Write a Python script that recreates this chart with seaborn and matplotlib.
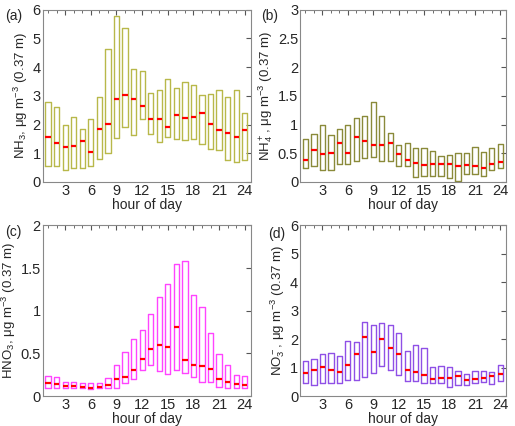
import numpy as np
import pandas as pd
import matplotlib
matplotlib.use("Agg")
import matplotlib.pyplot as plt
import seaborn as sns
from matplotlib.ticker import MultipleLocator, FuncFormatter

hours = list(range(1, 25))

# NH3 (a): lower box edge, median, upper box edge
nh3_lo = [0.56, 0.54, 0.41, 0.50, 0.49, 0.54, 0.81, 1.00, 1.54, 1.92, 1.63, 2.18,
          1.66, 1.38, 1.56, 1.50, 1.46, 1.50, 1.31, 1.16, 1.12, 0.76, 0.68, 0.76]
nh3_med = [1.56, 1.36, 1.23, 1.26, 1.44, 1.03, 1.85, 2.02, 2.88, 3.02, 2.90, 2.63,
           2.19, 2.20, 1.91, 2.32, 2.24, 2.27, 2.40, 2.03, 1.81, 1.70, 1.58, 1.81]
nh3_hi = [2.78, 2.61, 1.98, 2.28, 1.85, 2.18, 2.96, 4.63, 5.77, 5.35, 3.95, 3.88,
          3.11, 3.20, 3.59, 3.29, 3.50, 3.37, 3.03, 3.07, 3.22, 2.95, 3.22, 2.41]

# NH4+ (b)
nh4_lo = [0.24, 0.27, 0.21, 0.21, 0.31, 0.31, 0.37, 0.41, 0.43, 0.37, 0.36, 0.27,
          0.27, 0.09, 0.10, 0.10, 0.10, 0.07, 0.02, 0.13, 0.14, 0.11, 0.20, 0.25]
nh4_med = [0.38, 0.55, 0.49, 0.51, 0.68, 0.51, 0.79, 0.72, 0.64, 0.65, 0.67, 0.49,
           0.38, 0.33, 0.30, 0.31, 0.31, 0.31, 0.27, 0.29, 0.28, 0.24, 0.31, 0.35]
nh4_hi = [0.75, 0.84, 1.00, 0.82, 0.92, 1.00, 1.11, 1.15, 1.39, 1.15, 0.85, 0.64,
          0.68, 0.59, 0.59, 0.53, 0.45, 0.47, 0.50, 0.51, 0.60, 0.52, 0.59, 0.66]

# HNO3 (c)
hno3_lo = [0.10, 0.10, 0.09, 0.10, 0.09, 0.08, 0.09, 0.10, 0.10, 0.15, 0.20, 0.31,
           0.36, 0.30, 0.26, 0.31, 0.27, 0.23, 0.17, 0.17, 0.11, 0.09, 0.09, 0.09]
hno3_med = [0.15, 0.14, 0.12, 0.12, 0.11, 0.10, 0.11, 0.13, 0.20, 0.23, 0.31, 0.43,
            0.55, 0.60, 0.58, 0.81, 0.42, 0.36, 0.35, 0.32, 0.20, 0.17, 0.14, 0.13]
hno3_hi = [0.24, 0.23, 0.17, 0.17, 0.16, 0.16, 0.16, 0.21, 0.36, 0.52, 0.67, 0.77,
           0.96, 1.16, 1.31, 1.55, 1.58, 1.19, 1.04, 0.74, 0.49, 0.36, 0.25, 0.24]

# NO3- (d)
no3_lo = [0.48, 0.40, 0.46, 0.46, 0.47, 0.57, 0.57, 0.67, 0.82, 1.07, 0.93, 0.73,
          0.53, 0.53, 0.47, 0.47, 0.47, 0.33, 0.40, 0.40, 0.48, 0.50, 0.43, 0.53]
no3_med = [0.83, 0.93, 1.04, 0.93, 0.84, 1.10, 1.47, 2.07, 1.54, 2.02, 1.70, 1.47,
           0.93, 0.84, 0.76, 0.60, 0.63, 0.63, 0.70, 0.58, 0.60, 0.65, 0.70, 0.77]
no3_hi = [1.25, 1.30, 1.48, 1.50, 1.40, 1.95, 1.90, 2.60, 2.50, 2.56, 2.49, 2.21,
          1.57, 1.80, 1.69, 1.03, 1.05, 1.02, 0.88, 0.78, 0.88, 0.88, 0.84, 1.08]

sns.set_style("white")
plt.rcParams['font.family'] = ['Liberation Sans', 'DejaVu Sans']
plt.rcParams['mathtext.fontset'] = 'custom'
plt.rcParams['mathtext.rm'] = 'Liberation Sans'
plt.rcParams['mathtext.it'] = 'Liberation Sans'


def long_form(lo, med, hi):
    # 5 points per hour so that q1 = lo, median = med, q3 = hi
    rows = []
    for h, a, m, b in zip(hours, lo, med, hi):
        for v in (a, a, m, b, b):
            rows.append({'hour': h, 'value': v})
    return pd.DataFrame(rows)


panels = [
    ("(a)", nh3_lo, nh3_med, nh3_hi, "#b8b84a", 6, 1,
     r"NH$_3$, $\mathregular{\mu}$g m$^{-3}$ (0.37 m)"),
    ("(b)", nh4_lo, nh4_med, nh4_hi, "#8a8a3a", 3, 0.5,
     r"NH$_4^+$, $\mathregular{\mu}$g m$^{-3}$ (0.37 m)"),
    ("(c)", hno3_lo, hno3_med, hno3_hi, "#ff44ff", 2, 0.5,
     r"HNO$_3$, $\mathregular{\mu}$g m$^{-3}$ (0.37 m)"),
    ("(d)", no3_lo, no3_med, no3_hi, "#8f50e6", 6, 1,
     r"NO$_3^-$, $\mathregular{\mu}$g m$^{-3}$ (0.37 m)"),
]

positions = [
    [0.083, 0.573, 0.404, 0.404],
    [0.583, 0.573, 0.400, 0.404],
    [0.083, 0.070, 0.404, 0.401],
    [0.583, 0.070, 0.400, 0.401],
]
label_xy = [(0.010, 0.962), (0.508, 0.962), (0.010, 0.455), (0.520, 0.450)]

fig = plt.figure(figsize=(5.15, 4.26), dpi=100)

for (tag, lo, med, hi, col, ymax, ystep, ylab), pos, lxy in zip(panels, positions, label_xy):
    ax = fig.add_axes(pos)
    df = long_form(lo, med, hi)
    sns.boxplot(data=df, x='hour', y='value', native_scale=True, ax=ax,
                width=0.62, fill=False, color=col, linewidth=1.0,
                showcaps=False, whis=0, showfliers=False,
                boxprops={'color': col},
                medianprops={'color': 'red', 'linewidth': 1.6},
                whiskerprops={'linewidth': 0})
    ax.set_xlim(0.38, 24.7)
    ax.set_ylim(0, ymax)
    ax.xaxis.set_major_locator(MultipleLocator(3))
    ax.xaxis.set_minor_locator(MultipleLocator(1))
    ax.yaxis.set_major_locator(MultipleLocator(ystep))
    ax.yaxis.set_major_formatter(FuncFormatter(lambda v, p: f"{v:g}"))
    ax.tick_params(which='both', direction='in', top=True, right=True,
                   color='#555555', labelsize=10.5, pad=1.5)
    ax.tick_params(which='major', length=3.5)
    ax.tick_params(which='minor', length=2)
    for s in ax.spines.values():
        s.set_color('#888888')
        s.set_linewidth(0.8)
    ax.set_xlabel("hour of day", fontsize=10, labelpad=0)
    ax.set_ylabel(ylab, fontsize=9.5, labelpad=2)
    fig.text(lxy[0], lxy[1], tag, fontsize=10, ha='left', va='center')

fig.savefig("out.png", dpi=100)
